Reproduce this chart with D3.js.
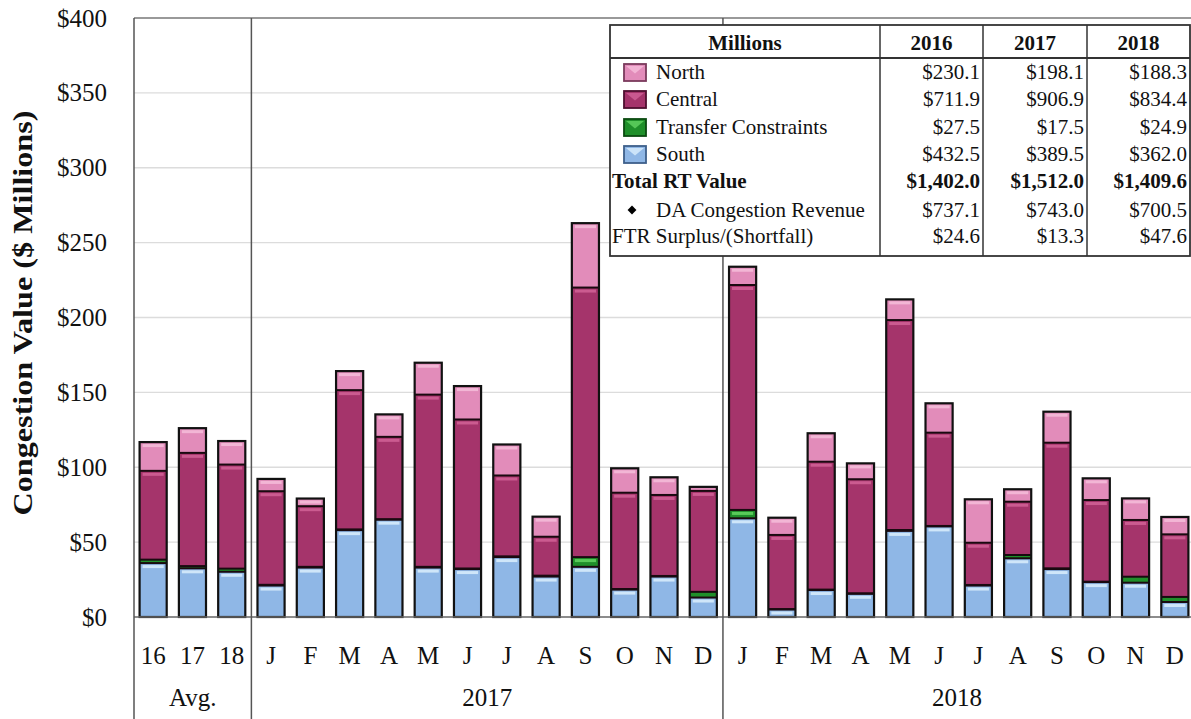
<!DOCTYPE html>
<html>
<head>
<meta charset="utf-8">
<script src="https://cdn.jsdelivr.net/npm/d3@7"></script>
<style>
  html, body { margin: 0; padding: 0; background: #fff; }
  svg { display: block; }
  text { font-family: "Liberation Serif", "Times New Roman", serif; fill: #111; }
</style>
</head>
<body>
<svg id="chart" width="1191" height="719"></svg>
<script>
// ---------- DATA ----------
const groups = ["Avg.", "2017", "2018"];
const categories = ["16","17","18","J","F","M","A","M","J","J","A","S","O","N","D","J","F","M","A","M","J","J","A","S","O","N","D"];
const categoryGroup = ["Avg.","Avg.","Avg.",
  "2017","2017","2017","2017","2017","2017","2017","2017","2017","2017","2017","2017",
  "2018","2018","2018","2018","2018","2018","2018","2018","2018","2018","2018","2018"];
const south    = [36.0, 32.5, 30.2, 21.0, 33.0, 58.0, 65.0, 33.0, 32.0, 40.0, 27.0, 33.5, 18.3, 27.0, 13.0, 65.9,  5.0, 18.0, 15.5, 57.5, 60.5, 21.0, 39.2, 32.0, 23.3, 22.9, 10.0];
const transfer = [ 2.3,  1.5,  2.1,  0.5,  0.5,  0.5,  0.3,  0.5,  0.4,  0.5,  0.6,  6.5,  0.4,  0.4,  3.8,  5.6,  0.3,  0.3,  0.3,  0.6,  0.3,  0.4,  2.2,  0.5,  0.3,  4.0,  3.4];
const central  = [59.3, 75.6, 69.5, 62.5, 40.5, 93.0, 55.0,115.0, 99.5, 54.0, 26.0,180.0, 64.3, 54.1, 67.4,150.2, 49.5, 85.4, 76.2,140.2, 62.3, 28.2, 35.6, 83.9, 54.5, 37.9, 41.8];
const north    = [19.2, 16.5, 15.7,  8.2,  5.1, 12.7, 15.0, 21.3, 22.3, 20.7, 13.4, 43.0, 16.3, 11.8,  2.7, 12.2, 11.5, 19.0, 10.6, 13.8, 19.6, 29.0,  8.3, 20.7, 14.5, 14.4, 11.6];
const yTicks = [0, 50, 100, 150, 200, 250, 300, 350, 400];
const yTitle = "Congestion Value ($ Millions)";

// table data
const tableYears = ["2016", "2017", "2018"];
const northTotals    = ["$230.1", "$198.1", "$188.3"];
const centralTotals  = ["$711.9", "$906.9", "$834.4"];
const transferTotals = ["$27.5", "$17.5", "$24.9"];
const southTotals    = ["$432.5", "$389.5", "$362.0"];
const totalRT        = ["$1,402.0", "$1,512.0", "$1,409.6"];
const daRevenue      = ["$737.1", "$743.0", "$700.5"];
const ftrSurplus     = ["$24.6", "$13.3", "$47.6"];

// ---------- STYLE ----------
const seriesKeys = ["south", "transfer", "central", "north"];
const seriesNames = {north: "North", central: "Central", transfer: "Transfer Constraints", south: "South"};
const fillColor = {south: "#8fb7e6", transfer: "#1f8f2a", central: "#a5346b", north: "#e28cba"};
const hiColor   = {south: "#d6ebfb", transfer: "#5fd05f", central: "#cf5f95", north: "#f4bad8"};
const edgeColor = {south: "#3d5f8a", transfer: "#0b4a10", central: "#4e0f2f", north: "#7a3a5c"};

const svg = d3.select("#chart");
const W = 1191, H = 719;
const plotTop = 18, plotBottom = 617, plotLeft = 134;

const keys = categories.map((c, i) => i);
const x = d3.scaleBand().domain(keys).range([133.5, 1194.5]).paddingInner(0.31).paddingOuter(0.155);
const y = d3.scaleLinear().domain([0, 400]).range([plotBottom, plotTop]);

// gridlines
svg.append("g").selectAll("line").data(yTicks.filter(d => d > 0)).join("line")
  .attr("x1", plotLeft).attr("x2", W)
  .attr("y1", d => y(d)).attr("y2", d => y(d))
  .attr("stroke", d => d === 400 ? "#777" : "#dcdcdc").attr("stroke-width", d => d === 400 ? 1.5 : 1.3);

// y axis labels
const yAxis = d3.axisLeft(y).tickValues(yTicks).tickFormat(d => "$" + d).tickSize(0).tickPadding(27);
const yg = svg.append("g").attr("transform", `translate(${plotLeft},0)`).call(yAxis);
yg.select(".domain").remove();
yg.selectAll("text").style("font-size", "25px").style("font-family", "'Liberation Serif', serif").attr("fill", "#111");

// y title
svg.append("text")
  .attr("transform", `translate(32, 313) rotate(-90)`)
  .attr("text-anchor", "middle")
  .attr("textLength", 405).attr("lengthAdjust", "spacingAndGlyphs")
  .style("font-size", "27px").style("font-weight", "bold")
  .text(yTitle);

// stacked bars
const rows = categories.map((c, i) => ({i, south: south[i], transfer: transfer[i], central: central[i], north: north[i]}));
const stacked = d3.stack().keys(seriesKeys)(rows);

const bw = x.bandwidth();
stacked.forEach(layer => {
  const k = layer.key;
  const g = svg.append("g");
  layer.forEach((seg, idx) => {
    const i = rows[idx].i;
    const x0 = x(i);
    const yTop = y(seg[1]), yBot = y(seg[0]);
    const h = yBot - yTop;
    if (h <= 0) return;
    g.append("rect")
      .attr("x", x0).attr("y", yTop).attr("width", bw).attr("height", h)
      .attr("fill", fillColor[k]);
    if (h > 6) {
      g.append("rect")
        .attr("x", x0 + 3).attr("y", yTop + 2).attr("width", bw - 6).attr("height", 3)
        .attr("fill", hiColor[k]).attr("opacity", 0.9);
    }
  });
});
// segment separators
stacked.forEach(layer => {
  layer.forEach((seg, idx) => {
    const i = rows[idx].i;
    if (layer.key !== "south" && seg[1] - seg[0] > 0.01) {
      svg.append("line")
        .attr("x1", x(i)).attr("x2", x(i) + bw)
        .attr("y1", y(seg[0])).attr("y2", y(seg[0]))
        .attr("stroke", "#1a0a10").attr("stroke-width", 2);
    }
  });
});
const totals = rows.map(r => r.south + r.transfer + r.central + r.north);
svg.append("g").selectAll("rect").data(rows).join("rect")
  .attr("x", d => x(d.i)).attr("y", (d, j) => y(totals[j]))
  .attr("width", bw).attr("height", (d, j) => y(0) - y(totals[j]))
  .attr("fill", "none").attr("stroke", "#111").attr("stroke-width", 2.2);

// x axis baseline
svg.append("line").attr("x1", plotLeft).attr("x2", W).attr("y1", plotBottom).attr("y2", plotBottom)
  .attr("stroke", "#666").attr("stroke-width", 1.3);

// x labels
const xAxis = d3.axisBottom(x).tickFormat(i => categories[i]).tickSize(0).tickPadding(29);
const xg = svg.append("g").attr("transform", `translate(0,${plotBottom})`).call(xAxis);
xg.select(".domain").remove();
xg.selectAll("text").style("font-size", "25px").style("font-family", "'Liberation Serif', serif").attr("fill", "#111");

// group separators and labels
const groupInfo = groups.map(gname => {
  const idx = keys.filter(i => categoryGroup[i] === gname);
  const first = idx[0], last = idx[idx.length - 1];
  return {name: gname, x0: x(first) - x.step() * x.paddingInner() / 2, x1: x(last) + bw + x.step() * x.paddingInner() / 2};
});
svg.append("g").selectAll("line").data(groupInfo).join("line")
  .attr("x1", d => Math.max(d.x0, plotLeft)).attr("x2", d => Math.max(d.x0, plotLeft))
  .attr("y1", plotTop).attr("y2", H)
  .attr("stroke", "#555").attr("stroke-width", 1.5);
svg.append("g").selectAll("text").data(groupInfo).join("text")
  .attr("x", d => (Math.max(d.x0, plotLeft) + Math.min(d.x1, W)) / 2)
  .attr("y", 706)
  .attr("text-anchor", "middle")
  .style("font-size", "25px")
  .text(d => d.name);

// ---------- TABLE / LEGEND ----------
const tX = [610, 880, 983, 1087, 1190];
const tTop = 25, headerBottom = 58, tBottom = 256;
const fs = "21px";
const tg = svg.append("g");
tg.append("rect").attr("x", tX[0]).attr("y", tTop).attr("width", tX[4] - tX[0]).attr("height", tBottom - tTop)
  .attr("fill", "#fff").attr("stroke", "#333").attr("stroke-width", 1.8);
tg.append("line").attr("x1", tX[0]).attr("x2", tX[4]).attr("y1", headerBottom).attr("y2", headerBottom)
  .attr("stroke", "#333").attr("stroke-width", 1.8);
tg.selectAll("line.col").data(tX.slice(1, 4)).join("line").attr("class", "col")
  .attr("x1", d => d).attr("x2", d => d).attr("y1", tTop).attr("y2", tBottom)
  .attr("stroke", "#333").attr("stroke-width", 1.5);

// header
tg.append("text").attr("x", (tX[0] + tX[1]) / 2).attr("y", 50).attr("text-anchor", "middle")
  .style("font-size", fs).style("font-weight", "bold").text("Millions");
tg.selectAll("text.yr").data(tableYears).join("text").attr("class", "yr")
  .attr("x", (d, j) => (tX[j + 1] + tX[j + 2]) / 2).attr("y", 50).attr("text-anchor", "middle")
  .style("font-size", fs).style("font-weight", "bold").text(d => d);

const tableRows = [
  {label: seriesNames.north, key: "north", vals: northTotals},
  {label: seriesNames.central, key: "central", vals: centralTotals},
  {label: seriesNames.transfer, key: "transfer", vals: transferTotals},
  {label: seriesNames.south, key: "south", vals: southTotals},
  {label: "Total RT Value", bold: true, vals: totalRT},
  {label: "DA Congestion Revenue", diamond: true, vals: daRevenue},
  {label: "FTR Surplus/(Shortfall)", vals: ftrSurplus}
];
const rowY = [79, 106, 134, 161, 188, 217, 243];
tableRows.forEach((r, j) => {
  const yy = rowY[j];
  const lx = (r.key || r.diamond) ? 656 : 612;
  if (r.key) {
    const sx = 624, sy = yy - 15, sw = 22, sh = 17;
    tg.append("rect").attr("x", sx).attr("y", sy).attr("width", sw).attr("height", sh)
      .attr("fill", fillColor[r.key]).attr("stroke", edgeColor[r.key]).attr("stroke-width", 1.8);
    tg.append("path")
      .attr("d", `M${sx + 2},${sy + 2} L${sx + sw / 2},${sy + sh / 2 + 1} L${sx + sw - 2},${sy + 2} Z`)
      .attr("fill", hiColor[r.key]).attr("opacity", 0.85);
  }
  if (r.diamond) {
    tg.append("path").attr("transform", `translate(632,${yy - 7})`)
      .attr("d", d3.symbol(d3.symbolDiamond2, 50)()).attr("fill", "#000");
  }
  tg.append("text").attr("x", lx).attr("y", yy)
    .style("font-size", fs).style("font-weight", r.bold ? "bold" : "normal").text(r.label);
  r.vals.forEach((v, c) => {
    tg.append("text").attr("x", tX[c + 2] - 3).attr("y", yy).attr("text-anchor", "end")
      .style("font-size", fs).style("font-weight", r.bold ? "bold" : "normal").text(v);
  });
});
</script>
</body>
</html>
